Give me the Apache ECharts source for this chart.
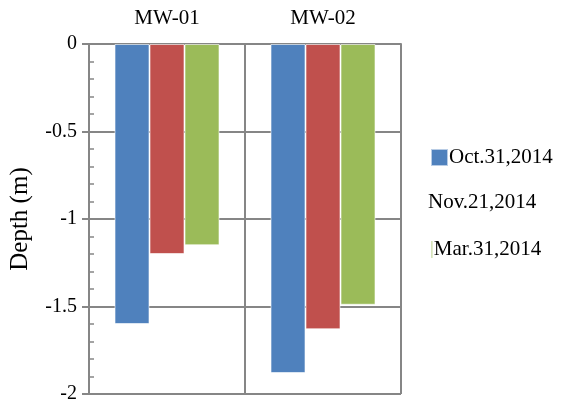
<!DOCTYPE html>
<html><head><meta charset="utf-8">
<script src="https://cdn.jsdelivr.net/npm/echarts@6/dist/echarts.min.js"></script>
<style>html,body{margin:0;padding:0;background:#fff}#c{width:561px;height:404px}</style>
</head><body><div id="c"></div>
<script>
var categories = ['MW-01', 'MW-02'];
var seriesNames = ['Oct.31,2014', 'Nov.21,2014', 'Mar.31,2014'];
var oct = [-1.60, -1.88];
var nov = [-1.20, -1.63];
var mar = [-1.15, -1.49];
var colors = ['#4F81BD', '#C0504D', '#9BBB59'];

var font = 'Liberation Serif';
var chart = echarts.init(document.getElementById('c'), null, {renderer: 'canvas'});
function bar(name, data, color) {
  return {name: name, type: 'bar', data: data, barWidth: 35, barGap: '0%',
    itemStyle: {color: color, borderColor: 'rgba(255,255,255,0.6)', borderWidth: 1}};
}
chart.setOption({
  animation: false,
  grid: {left: 87, right: 160, top: 44, bottom: 6, containLabel: false},
  xAxis: {type: 'category', data: categories, position: 'top',
    axisLine: {lineStyle: {color: '#868686', width: 2}},
    axisTick: {show: false},
    axisLabel: {fontFamily: font, fontSize: 21, color: '#000', margin: 15},
    splitLine: {show: true, lineStyle: {color: '#868686', width: 2}}},
  yAxis: {type: 'value', min: -2, max: 0, interval: 0.5,
    name: 'Depth (m)', nameLocation: 'middle', nameGap: 56, nameRotate: 90,
    nameTextStyle: {fontFamily: font, fontSize: 25, color: '#000'},
    axisLine: {show: true, lineStyle: {color: '#868686', width: 2}},
    axisTick: {show: true, length: 7, lineStyle: {color: '#868686', width: 2}},
    minorTick: {show: true, splitNumber: 5, length: -5, lineStyle: {color: '#868686', width: 1.5}},
    axisLabel: {fontFamily: font, fontSize: 20, color: '#000', margin: 12,
      formatter: function (v) { return String(v); }},
    splitLine: {show: true, lineStyle: {color: '#868686', width: 2}}},
  legend: [
    {data: [{name: seriesNames[0], icon: 'rect'}], left: 425, top: 142, orient: 'vertical',
      itemWidth: 17, itemHeight: 17, textStyle: {fontFamily: font, fontSize: 21, color: '#000', padding: [0,0,0,-4]}},
    {data: [{name: seriesNames[1], icon: 'none'}], left: 418, top: 187, itemWidth: 0, itemHeight: 17,
      textStyle: {fontFamily: font, fontSize: 21, color: '#000'}},
    {data: [{name: seriesNames[2], icon: 'path://M0,0L1,0L1,10L0,10Z'}], left: 425, top: 234, itemWidth: 2, itemHeight: 17,
      textStyle: {fontFamily: font, fontSize: 21, color: '#000', padding: [0,0,0,-4]}}
  ],
  series: [bar(seriesNames[0], oct, colors[0]), bar(seriesNames[1], nov, colors[1]), bar(seriesNames[2], mar, colors[2])]
});
</script></body></html>
